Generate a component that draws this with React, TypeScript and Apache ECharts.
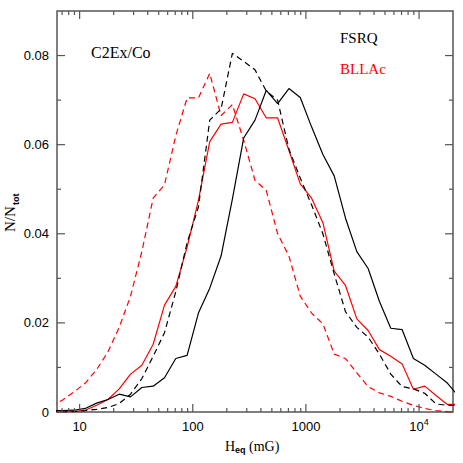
import React, { useEffect, useRef } from "react";
import * as echarts from "echarts";

// log10 of H_eq (mG) at the bin centres
const binLogH = [
  0.75, 0.85, 0.95, 1.05, 1.15, 1.25, 1.35, 1.45, 1.55, 1.65, 1.75, 1.85, 1.95,
  2.05, 2.15, 2.25, 2.35, 2.45, 2.55, 2.65, 2.75, 2.85, 2.95, 3.05, 3.15, 3.25,
  3.35, 3.45, 3.55, 3.65, 3.75, 3.85, 3.95, 4.05, 4.15, 4.25, 4.35,
];

const fsrqSolid = [
  0.0003, 0.0003, 0.0004, 0.0008, 0.002, 0.0028, 0.004, 0.0034, 0.0055, 0.0058,
  0.0077, 0.012, 0.0127, 0.0222, 0.0278, 0.035, 0.0478, 0.0615, 0.0655, 0.0722,
  0.0692, 0.0726, 0.0706, 0.064, 0.0578, 0.053, 0.0435, 0.036, 0.0322, 0.0248,
  0.0188, 0.0185, 0.012, 0.0105, 0.0085, 0.0065, 0.0035,
];

const fsrqDashed = [
  0, 0, 0.0001, 0.0003, 0.0006, 0.001, 0.0019, 0.004, 0.0075, 0.0125, 0.0178,
  0.027, 0.038, 0.046, 0.0655, 0.068, 0.0805, 0.0787, 0.0768, 0.072, 0.07,
  0.059, 0.0525, 0.0465, 0.04, 0.031, 0.0225, 0.019, 0.0168, 0.013, 0.0085,
  0.0057, 0.0052, 0.0042, 0.0018, 0.0015, 0.0015,
];

const bllacSolid = [
  0, 0, 0.0001, 0.0004, 0.0015, 0.0028, 0.0052, 0.0085, 0.0105, 0.0152, 0.024,
  0.0282, 0.037, 0.0475, 0.0607, 0.0646, 0.065, 0.0714, 0.0703, 0.066, 0.066,
  0.0587, 0.0512, 0.048, 0.0425, 0.0316, 0.0284, 0.0209, 0.0183, 0.014, 0.0125,
  0.0108, 0.0051, 0.0058, 0.0037, 0.0017, 0.0017,
];

const bllacDashed = [
  0.0012, 0.0027, 0.0045, 0.0065, 0.0095, 0.0135, 0.019, 0.026, 0.036, 0.048,
  0.051, 0.062, 0.0705, 0.0705, 0.076, 0.0665, 0.069, 0.061, 0.052, 0.0497,
  0.04, 0.035, 0.026, 0.0222, 0.0198, 0.013, 0.012, 0.0088, 0.0057, 0.0043,
  0.0035, 0.0024, 0.0015, 0.0008, 0.0003, 0.0001, 0,
];

// axis ticks
const xMajorH = [10, 100, 1000, 10000];
const xMajorLabels = ["{b|10}", "{b|100}", "{b|1000}", "{b|10}{s|4}"];
const xMinorH = [
  7, 8, 9, 20, 30, 40, 50, 60, 70, 80, 90, 200, 300, 400, 500, 600, 700, 800,
  900, 2000, 3000, 4000, 5000, 6000, 7000, 8000, 9000,
];
const yMajor = [0, 0.02, 0.04, 0.06, 0.08];
const yMajorLabels = ["0", "0.02", "0.04", "0.06", "0.08"];
const yMinor = [0.01, 0.03, 0.05, 0.07];

const X_MIN = 0.8;
const X_MAX = 4.3;
const Y_MIN = 0;
const Y_MAX = 0.09;

const AXIS_COLOR = "#555";
const SANS = '"Liberation Sans", Arial, sans-serif';
const SERIF = '"Liberation Serif", "Times New Roman", serif';

export default function App() {
  const ref = useRef<HTMLDivElement>(null);

  useEffect(() => {
    if (!ref.current) return;
    const chart = echarts.init(ref.current, undefined, { renderer: "svg" });

    const toPairs = (ys: number[]) => binLogH.map((x, i) => [x, ys[i]]);

    const xTickData = [
      ...xMajorH.map((h, i) => [Math.log10(h), 1, i]),
      ...xMinorH.map((h) => [Math.log10(h), 0, -1]),
    ];
    const yTickData = [
      ...yMajor.map((v, i) => [v, 1, i]),
      ...yMinor.map((v) => [v, 0, -1]),
    ];

    const lineSeries = (
      name: string,
      ys: number[],
      color: string,
      dashed: boolean
    ) => ({
      name,
      type: "line",
      data: toPairs(ys),
      showSymbol: false,
      symbol: "none",
      clip: true,
      lineStyle: {
        color,
        width: 1.2,
        type: dashed ? [6, 4] : "solid",
      },
      z: 3,
    });

    const option: any = {
      animation: false,
      grid: {
        left: 57,
        right: 10,
        top: 11,
        bottom: 51,
        show: true,
        borderColor: AXIS_COLOR,
        borderWidth: 1.5,
        backgroundColor: "transparent",
      },
      xAxis: {
        type: "value",
        min: X_MIN,
        max: X_MAX,
        axisLine: { show: false },
        axisTick: { show: false },
        axisLabel: { show: false },
        splitLine: { show: false },
      },
      yAxis: {
        type: "value",
        min: Y_MIN,
        max: Y_MAX,
        axisLine: { show: false },
        axisTick: { show: false },
        axisLabel: { show: false },
        splitLine: { show: false },
      },
      series: [
        lineSeries("BLLAc dashed", bllacDashed, "#ff0000", true),
        lineSeries("BLLAc", bllacSolid, "#ff0000", false),
        lineSeries("FSRQ dashed", fsrqDashed, "#000000", true),
        lineSeries("FSRQ", fsrqSolid, "#000000", false),
        {
          type: "custom",
          name: "xticks",
          data: xTickData,
          clip: false,
          silent: true,
          z: 5,
          renderItem: (_p: any, api: any) => {
            const v = api.value(0);
            const major = api.value(1) === 1;
            const li = api.value(2);
            const b = api.coord([v, Y_MIN]);
            const t = api.coord([v, Y_MAX]);
            const len = major ? 8 : 4;
            const st = { stroke: AXIS_COLOR, lineWidth: 1.2 };
            const children: any[] = [
              { type: "line", shape: { x1: b[0], y1: b[1], x2: b[0], y2: b[1] - len }, style: st },
              { type: "line", shape: { x1: t[0], y1: t[1], x2: t[0], y2: t[1] + len }, style: st },
            ];
            if (major) {
              children.push({
                type: "text",
                x: b[0],
                y: b[1] + 13,
                style: {
                  text: xMajorLabels[li],
                  align: "center",
                  verticalAlign: "middle",
                  fill: "#000",
                  rich: {
                    b: { fontSize: 13, fontFamily: SANS, fill: "#000", lineHeight: 16, verticalAlign: "bottom" },
                    s: { fontSize: 9, fontFamily: SANS, fill: "#000", lineHeight: 16, verticalAlign: "top" },
                  },
                },
              });
            }
            return { type: "group", children };
          },
        },
        {
          type: "custom",
          name: "yticks",
          data: yTickData,
          clip: false,
          silent: true,
          z: 5,
          renderItem: (_p: any, api: any) => {
            const v = api.value(0);
            const major = api.value(1) === 1;
            const li = api.value(2);
            const l = api.coord([X_MIN, v]);
            const r = api.coord([X_MAX, v]);
            const len = major ? 8 : 4;
            const st = { stroke: AXIS_COLOR, lineWidth: 1.2 };
            const children: any[] = [
              { type: "line", shape: { x1: l[0], y1: l[1], x2: l[0] + len, y2: l[1] }, style: st },
              { type: "line", shape: { x1: r[0], y1: r[1], x2: r[0] - len, y2: r[1] }, style: st },
            ];
            if (major) {
              children.push({
                type: "text",
                x: l[0] - 8,
                y: l[1],
                style: {
                  text: yMajorLabels[li],
                  align: "right",
                  verticalAlign: "middle",
                  fill: "#000",
                  font: `13px ${SANS}`,
                },
              });
            }
            return { type: "group", children };
          },
        },
      ],
      graphic: [
        {
          type: "text",
          left: 91,
          top: 44,
          style: { text: "C2Ex/Co", font: `16px ${SERIF}`, fill: "#000" },
        },
        {
          type: "text",
          left: 340,
          top: 30,
          style: { text: "FSRQ", font: `15px ${SERIF}`, fill: "#000" },
        },
        {
          type: "text",
          left: 340,
          top: 61,
          style: { text: "BLLAc", font: `15px ${SERIF}`, fill: "#ff0000" },
        },
        {
          type: "group",
          left: 225,
          top: 439,
          children: [
            { type: "text", x: 0, y: 0, style: { text: "H", font: `14px ${SERIF}`, fill: "#000" } },
            { type: "text", x: 10, y: 6, style: { text: "eq", font: `bold 9px ${SANS}`, fill: "#000" } },
            { type: "text", x: 24, y: 0, style: { text: "(mG)", font: `14px ${SERIF}`, fill: "#000" } },
          ],
        },
        {
          type: "group",
          x: 17,
          y: 232,
          rotation: Math.PI / 2,
          children: [
            { type: "text", x: 0, y: 0, style: { text: "N/N", font: `15px ${SERIF}`, fill: "#000", verticalAlign: "bottom" } },
            { type: "text", x: 27, y: 3, style: { text: "tot", font: `bold 9px ${SANS}`, fill: "#000", verticalAlign: "bottom" } },
          ],
        },
      ],
    };

    chart.setOption(option);
    return () => chart.dispose();
  }, []);

  return (
    <div
      ref={ref}
      style={{ position: "absolute", left: 0, top: 0, width: 463, height: 463 }}
    />
  );
}
